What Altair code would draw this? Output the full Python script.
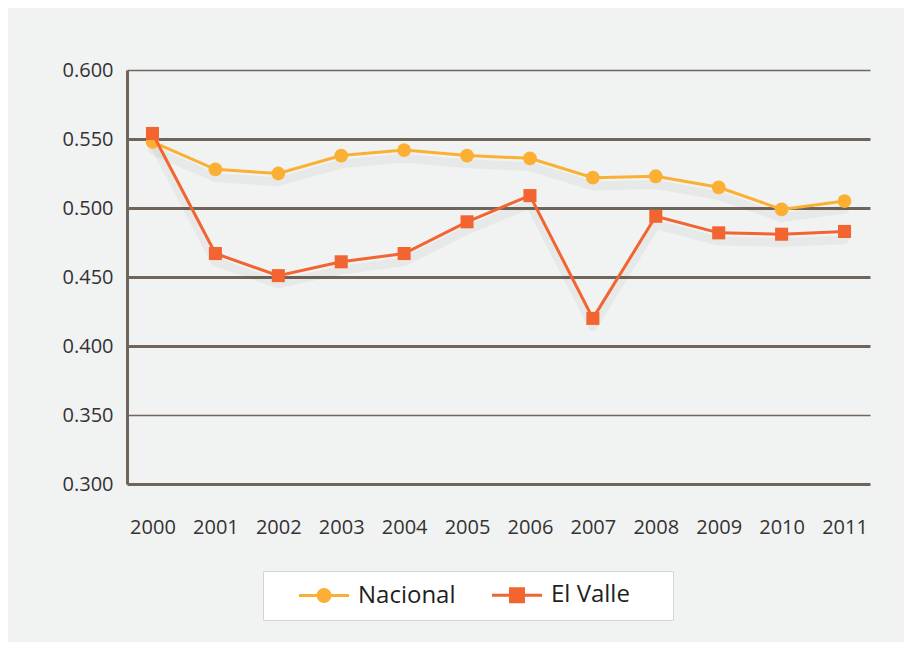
import altair as alt
import pandas as pd

years = [str(y) for y in range(2000, 2012)]
nacional = [0.548, 0.528, 0.525, 0.538, 0.542, 0.538, 0.536, 0.522, 0.523, 0.515, 0.499, 0.505]
el_valle = [0.554, 0.467, 0.451, 0.461, 0.467, 0.490, 0.509, 0.420, 0.494, 0.482, 0.481, 0.483]
series_names = ["Nacional", "El Valle"]
series_colors = ["#FBB034", "#F26531"]
y_ticks = [0.30, 0.35, 0.40, 0.45, 0.50, 0.55, 0.60]

GRID = "#6F655B"
FONT = "Open Sans"

df = pd.DataFrame({
    "Año": years * 2,
    "Valor": nacional + el_valle,
    "Serie": ["Nacional"] * len(years) + ["El Valle"] * len(years),
})

x_scale = alt.Scale(type="point", padding=0.405)
x_axis = alt.Axis(title=None, labelAngle=0, domain=False, ticks=False, grid=False,
                  labelPadding=33, labelFont=FONT, labelFontSize=20, labelColor="#333333")
y_scale = alt.Scale(domain=[0.3, 0.6], nice=False, zero=False)
y_axis = alt.Axis(title=None, values=y_ticks, format=".3f", domain=True, domainColor=GRID,
                  domainWidth=3, ticks=False, grid=True, gridColor=GRID,
                  gridWidth={"condition": {"test": "abs(datum.value - 0.6) < 0.001 || abs(datum.value - 0.35) < 0.001", "value": 1.5}, "value": 3},
                  labelPadding=14, labelFont=FONT, labelFontSize=20, labelColor="#333333")

base = alt.Chart(df).encode(
    x=alt.X("Año:O", scale=x_scale, axis=x_axis),
    y=alt.Y("Valor:Q", scale=y_scale, axis=y_axis),
)

# soft drop shadow (decorative), drawn slightly below each series
shadow = alt.Chart(df).transform_calculate(Sombra="datum.Valor - 0.006").mark_line(
    color="#000000", strokeWidth=9, opacity=0.04, strokeCap="round", strokeJoin="round"
).encode(
    x=alt.X("Año:O", scale=x_scale, axis=x_axis),
    y=alt.Y("Sombra:Q", scale=y_scale, axis=y_axis),
    detail="Serie:N",
)

nac = base.transform_filter("datum.Serie == 'Nacional'")
ev = base.transform_filter("datum.Serie == 'El Valle'")

nac_line = nac.mark_line(color=series_colors[0], strokeWidth=3)
nac_pts = nac.mark_point(shape="circle", filled=True, size=190, opacity=1, color=series_colors[0])
ev_line = ev.mark_line(color=series_colors[1], strokeWidth=3)
ev_pts = ev.mark_point(shape="square", filled=True, size=170, opacity=1, color=series_colors[1])

circle_path = "M-2.5,0L2.5,0M0.6,0A0.6,0.6,0,1,1,-0.6,0A0.6,0.6,0,1,1,0.6,0Z"
square_path = "M-2.5,0L2.5,0M-0.65,-0.65L0.65,-0.65L0.65,0.65L-0.65,0.65Z"

# invisible title on the right only widens the white legend box
leg = alt.Legend(title="M", orient="none", legendX=136, legendY=501, direction="horizontal")

legend_layer = alt.Chart(df).transform_filter("false").mark_point(filled=True, opacity=1).encode(
    fill=alt.Fill("Serie:N", scale=alt.Scale(domain=series_names, range=series_colors), legend=leg),
    stroke=alt.Stroke("Serie:N", scale=alt.Scale(domain=series_names, range=series_colors), legend=leg),
    shape=alt.Shape("Serie:N", scale=alt.Scale(domain=series_names, range=[circle_path, square_path]), legend=leg),
)

chart = alt.layer(shadow, nac_line, nac_pts, ev_line, ev_pts, legend_layer).properties(
    width=743,
    height=414,
    padding={"left": 119, "top": 62, "right": 34, "bottom": 158},
    autosize=alt.AutoSizeParams(type="none"),
    background="#F1F2F2",
).configure_view(stroke=None).configure_legend(
    fillColor="white",
    strokeColor="#D4D4D4",
    padding=12,
    symbolSize=400,
    symbolStrokeWidth=3,
    symbolOpacity=1,
    symbolOffset=37,
    labelFont=FONT,
    labelFontSize=24,
    labelColor="#231F20",
    labelOffset=22,
    columnPadding=12,
    titleOrient="right",
    titleColor="#FFFFFF",
    titleFont=FONT,
    titleFontSize=24,
    titlePadding=8,
)

chart.save("out.html", embed_options={"renderer": "svg", "actions": False})
